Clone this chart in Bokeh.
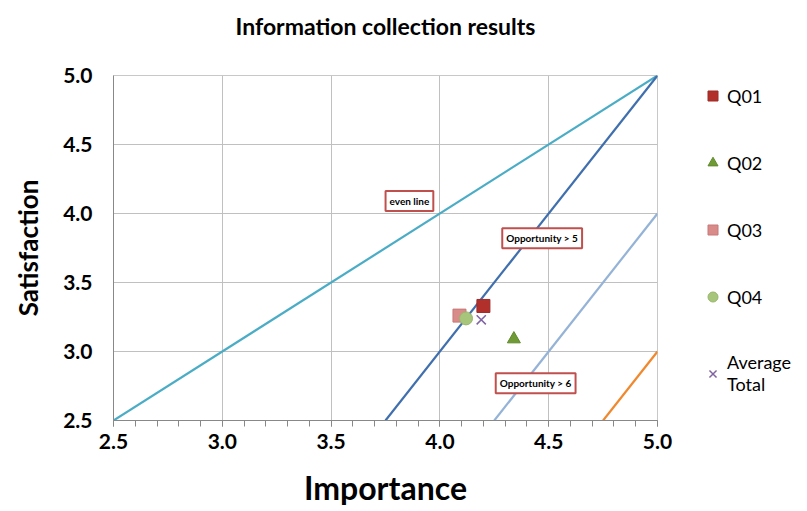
from bokeh.plotting import figure
from bokeh.layouts import row
from bokeh.models import (Range1d, SingleIntervalTicker, PrintfTickFormatter, Label,
                          Legend, LegendItem)
from bokeh.embed import file_html
from bokeh.resources import INLINE

# ---- data ----
series_names = ["Q01", "Q02", "Q03", "Q04", "Average\nTotal"]
importance = [4.20, 4.34, 4.09, 4.12, 4.19]
satisfaction = [3.33, 3.09, 3.26, 3.24, 3.23]

even_x = [2.5, 5.0]
even_y = [2.5, 5.0]
opp5_x = [3.75, 5.0]
opp5_y = [2.5, 5.0]
opp6_x = [4.25, 5.0]
opp6_y = [2.5, 4.0]
opp7_x = [4.75, 5.0]
opp7_y = [2.5, 3.0]

ann_text = ["even line", "Opportunity > 5", "Opportunity > 6"]
ann_x = [3.86, 4.47, 4.44]
ann_y = [4.09, 3.82, 2.77]

FONT = "Lato"

p = figure(width=677, height=511, output_backend="svg", toolbar_location=None,
           x_range=Range1d(2.5, 5.0), y_range=Range1d(2.5, 5.0),
           min_border_left=113, min_border_right=20, min_border_top=75,
           min_border_bottom=91)

p.title.text = "Information collection results\n"
p.title.align = "center"
p.title.text_font = FONT
p.title.text_font_size = "23px"
p.title.text_font_style = "bold"
p.title.text_color = "black"
p.title.standoff = 16

p.outline_line_color = "#c8c8c8"
p.background_fill_color = "white"
p.border_fill_color = "white"

for ax in (p.xaxis[0], p.yaxis[0]):
    ax.ticker = SingleIntervalTicker(interval=0.5, num_minor_ticks=5)
    ax.formatter = PrintfTickFormatter(format="%.1f")
    ax.axis_line_color = "#888888"
    ax.major_label_text_font = FONT
    ax.major_label_text_font_size = "21px"
    ax.major_label_text_font_style = "bold"
    ax.major_label_text_color = "black"
    ax.axis_label_text_font = FONT
    ax.axis_label_text_font_style = "bold"
    ax.axis_label_text_color = "black"
    ax.major_tick_in = 0
    ax.minor_tick_in = 0

p.xaxis.axis_label = "Importance"
p.xaxis.axis_label_text_font_size = "32px"
p.xaxis.major_tick_out = 6
p.xaxis.minor_tick_out = 6
p.xaxis.major_tick_line_color = "#888888"
p.xaxis.minor_tick_line_color = "#888888"
p.xaxis.major_label_standoff = 7
p.xaxis.axis_label_standoff = 16

p.yaxis.axis_label = "Satisfaction"
p.yaxis.axis_label_text_font_size = "26px"
p.yaxis.major_tick_out = 0
p.yaxis.minor_tick_out = 0
p.yaxis.major_tick_line_color = None
p.yaxis.minor_tick_line_color = None
p.yaxis.major_label_standoff = 21
p.yaxis.axis_label_standoff = 16

p.grid.grid_line_color = "#c0c0c0"
p.grid.grid_line_width = 1

p.line(even_x, even_y, line_color="#4bacc6", line_width=2.2)
p.line(opp5_x, opp5_y, line_color="#3f6fad", line_width=2.2)
p.line(opp6_x, opp6_y, line_color="#95b3d7", line_width=2.2)
p.line(opp7_x, opp7_y, line_color="#f0882e", line_width=2.2)

for t, x, y in zip(ann_text, ann_x, ann_y):
    p.add_layout(Label(x=x, y=y, text=t, text_font=FONT, text_font_size="10px",
                       text_font_style="bold", text_color="black",
                       text_align="center", text_baseline="middle",
                       background_fill_color="white",
                       border_line_color="#c0504d", border_line_width=2,
                       padding=4))

styles = [
    dict(marker="square", fill_color="#b2302c", line_color="#9e2a27"),
    dict(marker="triangle", fill_color="#6f9a35", line_color="#5f8a2a"),
    dict(marker="square", fill_color="#d98b8a", line_color="#c87876"),
    dict(marker="circle", fill_color="#a8c57c", line_color="#98b56c"),
    dict(marker="x", fill_color=None, line_color="#8064a2"),
]

for xv, yv, st in zip(importance, satisfaction, styles):
    p.scatter([xv], [yv], marker=st["marker"], size=13,
              fill_color=st["fill_color"], line_color=st["line_color"],
              line_width=1.5 if st["marker"] == "x" else 1)

# ---- legend panel: same series, same styles; its ranges keep the points out of view ----
lg = figure(width=130, height=511, output_backend="svg", toolbar_location=None,
            x_range=Range1d(0, 1), y_range=Range1d(0, 1),
            x_axis_type=None, y_axis_type=None,
            min_border=0)
lg.outline_line_color = None
lg.background_fill_color = "white"
lg.border_fill_color = "white"

items = []
for name, xv, yv, st in zip(series_names, importance, satisfaction, styles):
    r = lg.scatter([xv], [yv], marker=st["marker"], size=10,
                   fill_color=st["fill_color"], line_color=st["line_color"],
                   line_width=1.5 if st["marker"] == "x" else 1)
    items.append(LegendItem(label=name, renderers=[r]))

legend = Legend(items=items, location=(23, 25), orientation="vertical",
                glyph_width=25, glyph_height=25, label_height=20, spacing=42,
                label_standoff=2, padding=0, margin=0,
                border_line_color=None, background_fill_alpha=0,
                label_text_font=FONT, label_text_font_size="18px",
                label_text_color="black")
lg.add_layout(legend, "center")

layout = row(p, lg, spacing=0)
open("out.html", "w").write(file_html(layout, INLINE))
